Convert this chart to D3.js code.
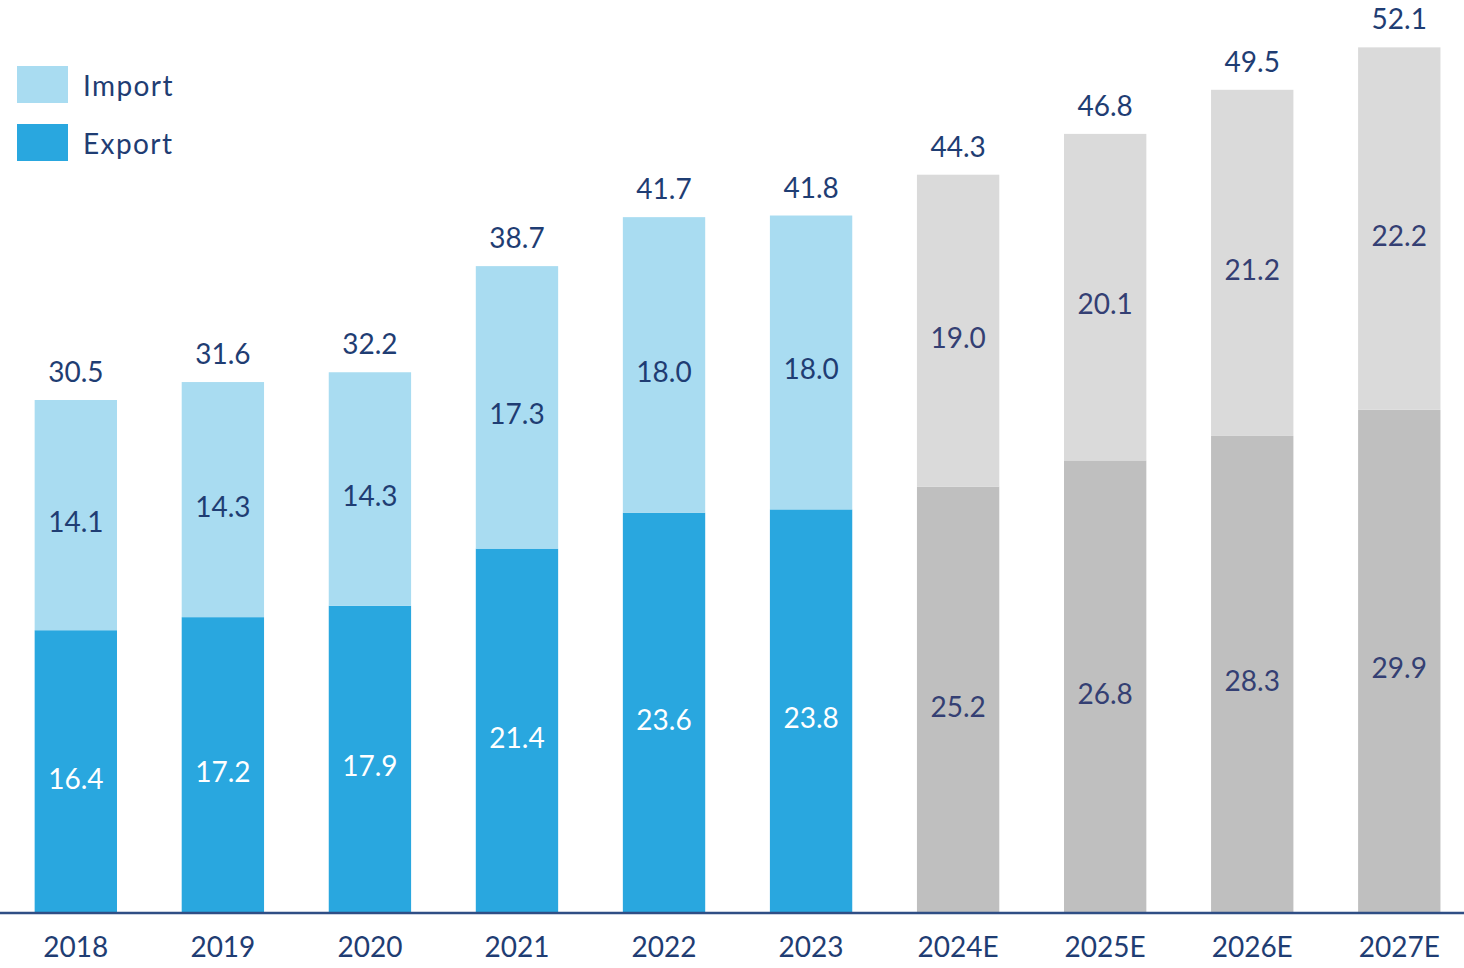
<!DOCTYPE html>
<html><head><meta charset="utf-8">
<script src="https://cdn.jsdelivr.net/npm/d3@7"></script>
<style>html,body{margin:0;padding:0;background:#fff;}svg{display:block;}</style>
</head><body>
<svg id="chart" width="1464" height="968"></svg>
<script>
const categories = ["2018","2019","2020","2021","2022","2023","2024E","2025E","2026E","2027E"];
const exportValues = [16.4,17.2,17.9,21.4,23.6,23.8,25.2,26.8,28.3,29.9];
const importValues = [14.1,14.3,14.3,17.3,18.0,18.0,19.0,20.1,21.2,22.2];
const totalValues = [30.5,31.6,32.2,38.7,41.7,41.8,44.3,46.8,49.5,52.1];
const forecast = [false,false,false,false,false,false,true,true,true,true];
const seriesNames = ["Import","Export"];

const W = 1464, H = 968, baseY = 913;
const font = "Lato, 'Open Sans', sans-serif";
const navy = "#1F3D73";
const colors = {
  Import: "#A9DCF1", Export: "#29A7DF",
  ImportF: "#DADADA", ExportF: "#BFBFBF"
};

const svg = d3.select("#chart");
const x = d3.scaleBand().domain(categories).range([2.3, 1472.8]).paddingInner(0.44).paddingOuter(0.22);
const y = d3.scaleLinear().domain([-0.92, 55]).range([baseY, 0]);

const data = categories.map((c, i) => ({c, ex: exportValues[i], im: importValues[i], tot: totalValues[i], f: forecast[i]}));

const g = svg.append("g");
g.selectAll("rect.ex").data(data).join("rect")
  .attr("x", d => x(d.c)).attr("width", x.bandwidth())
  .attr("y", d => y(d.ex)).attr("height", d => baseY - y(d.ex))
  .attr("fill", d => d.f ? colors.ExportF : colors.Export);
g.selectAll("rect.im").data(data).join("rect")
  .attr("x", d => x(d.c)).attr("width", x.bandwidth())
  .attr("y", d => y(d.tot)).attr("height", d => y(d.ex) - y(d.tot))
  .attr("fill", d => d.f ? colors.ImportF : colors.Import);

const fs = 28;
g.selectAll("text.exl").data(data).join("text")
  .attr("x", d => x(d.c) + x.bandwidth()/2)
  .attr("y", d => (baseY + y(d.ex))/2 + 17)
  .attr("text-anchor", "middle").attr("font-family", font).attr("font-size", fs)
  .attr("fill", d => d.f ? "#343F73" : "#FFFFFF")
  .text(d => d.ex.toFixed(1));
g.selectAll("text.iml").data(data).join("text")
  .attr("x", d => x(d.c) + x.bandwidth()/2)
  .attr("y", d => (y(d.ex) + y(d.tot))/2 + 17)
  .attr("text-anchor", "middle").attr("font-family", font).attr("font-size", fs)
  .attr("fill", d => d.f ? "#343F73" : navy)
  .text(d => d.im.toFixed(1));
g.selectAll("text.tot").data(data).join("text")
  .attr("x", d => x(d.c) + x.bandwidth()/2)
  .attr("y", d => y(d.tot) - 18)
  .attr("text-anchor", "middle").attr("font-family", font).attr("font-size", fs)
  .attr("fill", navy)
  .text(d => d.tot.toFixed(1));

const axis = svg.append("g").attr("transform", `translate(0,${baseY})`)
  .call(d3.axisBottom(x).tickSize(0).tickPadding(0));
axis.select(".domain").remove();
axis.append("line").attr("x1", 0).attr("x2", W).attr("y1", 0).attr("y2", 0)
  .attr("stroke", "#2F4E85").attr("stroke-width", 2.5);
axis.selectAll(".tick text").attr("font-family", font).attr("font-size", fs)
  .attr("fill", navy).attr("dy", null).attr("y", 44);

const leg = svg.append("g");
seriesNames.forEach((s, i) => {
  const ly = 66 + i * 58;
  leg.append("rect").attr("x", 17).attr("y", ly).attr("width", 51).attr("height", 37).attr("fill", colors[s]);
  leg.append("text").attr("x", 83).attr("y", ly + 30).attr("font-family", font).attr("font-size", fs)
    .attr("letter-spacing", 1.4).attr("fill", navy).text(s);
});
</script>
</body></html>
